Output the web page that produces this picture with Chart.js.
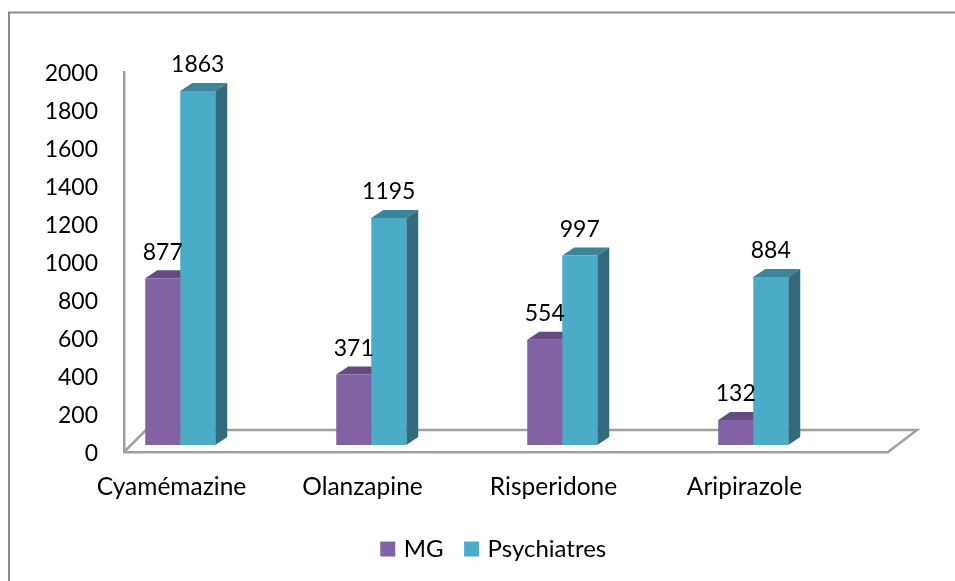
<!DOCTYPE html>
<html><head><meta charset="utf-8">
<script src="https://cdn.jsdelivr.net/npm/chart.js@4"></script>
<style>html,body{margin:0;padding:0;background:#fff;overflow:hidden}canvas{display:block}</style>
</head><body><div style="width:955px;height:581px"><canvas id="c"></canvas></div>
<script>
const categories = ["Cyamémazine","Olanzapine","Risperidone","Aripirazole"];
const mgValues = [877,371,554,132];
const psyValues = [1863,1195,997,884];
const yTicks = [0,200,400,600,800,1000,1200,1400,1600,1800,2000];
const FONT = "Lato, Carlito, sans-serif";
const FRONT = ["#8262A3","#4AACC7"];
const SIDE = ["#5B4475","#336B7C"];
const TOP = ["#644C80","#3B849A"];
const shiftX = -39.25, shiftY = -7, depthX = 12, depthY = 8;

const bars3d = {
  id:"bars3d",
  afterLayout(chart){
    chart.legend.left += 31; chart.legend.right += 31;
  },
  beforeDraw(chart){
    const {ctx} = chart;
    ctx.save();
    ctx.strokeStyle="#8a8a8a"; ctx.lineWidth=2;
    ctx.beginPath(); ctx.moveTo(9,582); ctx.lineTo(9,12.5); ctx.lineTo(956,12.5); ctx.stroke();
    ctx.restore();
  },
  beforeDatasetsDraw(chart){
    const {ctx,chartArea:a} = chart;
    ctx.save();
    ctx.strokeStyle="#a0a0a0"; ctx.lineWidth=2.5;
    ctx.beginPath();
    ctx.moveTo(a.left,a.bottom); ctx.lineTo(a.left+22,a.bottom-22);
    ctx.lineTo(a.right+29,a.bottom-22); ctx.lineTo(a.right,a.bottom);
    ctx.stroke();
    ctx.restore();
    ctx.save();
    ctx.translate(shiftX,shiftY);
    chart.data.datasets.forEach((ds,i)=>{
      chart.getDatasetMeta(i).data.forEach(el=>{
        const l=el.x-el.width/2,r=el.x+el.width/2,t=el.y,b=el.base;
        ctx.fillStyle=TOP[i];
        ctx.beginPath();ctx.moveTo(l,t);ctx.lineTo(l+depthX,t-depthY);ctx.lineTo(r+depthX,t-depthY);ctx.lineTo(r,t);ctx.closePath();ctx.fill();
        ctx.fillStyle=SIDE[i];
        ctx.beginPath();ctx.moveTo(r,t);ctx.lineTo(r+depthX,t-depthY);ctx.lineTo(r+depthX,b-depthY);ctx.lineTo(r,b);ctx.closePath();ctx.fill();
      });
    });
  },
  afterDatasetsDraw(chart){
    const {ctx} = chart;
    ctx.font="23px "+FONT; ctx.fillStyle="#000"; ctx.textAlign="center"; ctx.textBaseline="middle";
    chart.data.datasets.forEach((ds,i)=>{
      chart.getDatasetMeta(i).data.forEach((el,j)=>{
        ctx.fillText(String(ds.data[j]),el.x,el.y-26);
      });
    });
    ctx.restore();
  }
};

new Chart(document.getElementById("c"),{
  type:"bar",
  data:{labels:categories,datasets:[
    {label:"MG",data:mgValues,backgroundColor:FRONT[0],clip:false},
    {label:"Psychiatres",data:psyValues,backgroundColor:FRONT[1],clip:false}
  ]},
  plugins:[bars3d],
  options:{
    responsive:true,maintainAspectRatio:false,animation:false,
    layout:{padding:{left:40,right:67,top:72,bottom:10}},
    datasets:{bar:{categoryPercentage:0.3665,barPercentage:1}},
    plugins:{
      tooltip:{enabled:false},
      legend:{position:"bottom",labels:{
        boxWidth:8,boxHeight:8,padding:24,color:"#000",font:{family:FONT,size:24},
        generateLabels(chart){
          return chart.data.datasets.map((ds,i)=>({text:ds.label,fillStyle:FRONT[i],strokeStyle:FRONT[i],lineWidth:7,datasetIndex:i,hidden:false}));
        }
      }}
    },
    scales:{
      x:{
        afterFit(s){s.height=61;},
        grid:{display:false,drawTicks:false},
        border:{display:true,color:"#a0a0a0",width:2.5},
        ticks:{color:"#000",font:{family:FONT,size:24.5},padding:20,labelOffset:-48,maxRotation:0,autoSkip:false}
      },
      y:{
        min:0,max:2000,
        afterFit(s){s.width=84;},
        afterBuildTicks(s){s.ticks=yTicks.map(v=>({value:v}));},
        grid:{display:false,drawTicks:false},
        border:{display:true,color:"#a0a0a0",width:2.5},
        ticks:{color:"#000",font:{family:FONT,size:23},padding:26,labelOffset:2,autoSkip:false,callback:v=>String(v)}
      }
    }
  }
});
</script></body></html>
